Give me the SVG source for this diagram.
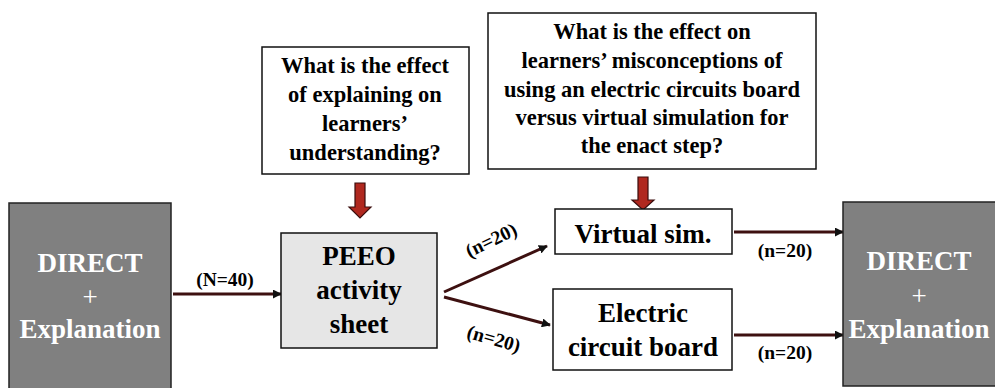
<svg xmlns="http://www.w3.org/2000/svg" width="995" height="388" viewBox="0 0 995 388">
<defs>
<style>
text{font-family:'Liberation Serif','DejaVu Serif',serif;font-weight:bold;text-anchor:middle}
.big{font-size:27px}
.q{font-size:22.5px;fill:#000}
.lbl{font-size:19.5px;fill:#000}
.white{fill:#ffffff}
.gray{fill:#808080;stroke:#222;stroke-width:1.5}
.light{fill:#e6e6e6;stroke:#111;stroke-width:1.5}
.box{fill:#fff;stroke:#111;stroke-width:1.5}
.conn{stroke:#3d1010;stroke-width:3;fill:none;marker-end:url(#ah)}
.red{fill:#b0281f;stroke:#3a0d0d;stroke-width:1.2}
</style>
<marker id="ah" viewBox="0 0 10 10" refX="9" refY="5" markerWidth="3" markerHeight="3" orient="auto" markerUnits="strokeWidth">
<path d="M0,0 L10,5 L0,10 z" fill="#111"/>
</marker>
</defs>
<rect width="995" height="388" fill="#fff"/>

<g id="connectors" font-family="Liberation Serif, serif">
<line class="conn" x1="173" y1="294" x2="281" y2="294"/>
<line class="conn" x1="444" y1="292" x2="547" y2="246"/>
<line class="conn" x1="444" y1="297" x2="550" y2="325"/>
<line class="conn" x1="734" y1="232" x2="843" y2="232"/>
<line class="conn" x1="734" y1="335" x2="843" y2="335"/>
<polygon class="red" points="355,183 365,183 365,207 371,207 360,218 349,207 355,207"/>
<polygon class="red" points="638,177 648,177 648,200 654,200 643,210 632,200 638,200"/>
<text class="lbl" x="225" y="286">(N=40)</text>
<text class="lbl" transform="translate(494,246) rotate(-26)">(n=20)</text>
<text class="lbl" transform="translate(492,345) rotate(16)">(n=20)</text>
<text class="lbl" x="785" y="257">(n=20)</text>
<text class="lbl" x="785" y="359">(n=20)</text>
</g>

<g id="direct-left">
<rect class="gray" x="9" y="203" width="162" height="190"/>
<text class="big white" x="90" y="272">DIRECT</text>
<text class="big white" x="90" y="306" style="font-weight:normal">+</text>
<text class="big white" x="90" y="338">Explanation</text>
</g>

<g id="peeo">
<rect class="light" x="281" y="233" width="156" height="115"/>
<text class="big" x="359" y="265">PEEO</text>
<text class="big" x="359" y="299">activity</text>
<text class="big" x="359" y="333">sheet</text>
</g>

<g id="question1">
<rect class="box" x="262" y="47" width="207" height="127"/>
<text class="q" x="365" y="73">What is the effect</text>
<text class="q" x="365" y="102">of explaining on</text>
<text class="q" x="365" y="131">learners’</text>
<text class="q" x="365" y="160">understanding?</text>
</g>

<g id="question2">
<rect class="box" x="488" y="13" width="328" height="156"/>
<text class="q" x="652" y="39">What is the effect on</text>
<text class="q" x="652" y="68">learners’ misconceptions of</text>
<text class="q" x="652" y="97">using an electric circuits board</text>
<text class="q" x="652" y="125">versus virtual simulation for</text>
<text class="q" x="652" y="153">the enact step?</text>
</g>

<g id="virtual-sim">
<rect class="box" x="555" y="209" width="177" height="45"/>
<text class="big" x="643" y="243">Virtual sim.</text>
</g>

<g id="circuit-board">
<rect class="box" x="553" y="289" width="179" height="81"/>
<text class="big" x="643" y="322">Electric</text>
<text class="big" x="643" y="356">circuit board</text>
</g>

<g id="direct-right">
<rect class="gray" x="843" y="202" width="160" height="184"/>
<text class="big white" x="919" y="270">DIRECT</text>
<text class="big white" x="919" y="305" style="font-weight:normal">+</text>
<text class="big white" x="919" y="338">Explanation</text>
</g>
</svg>
